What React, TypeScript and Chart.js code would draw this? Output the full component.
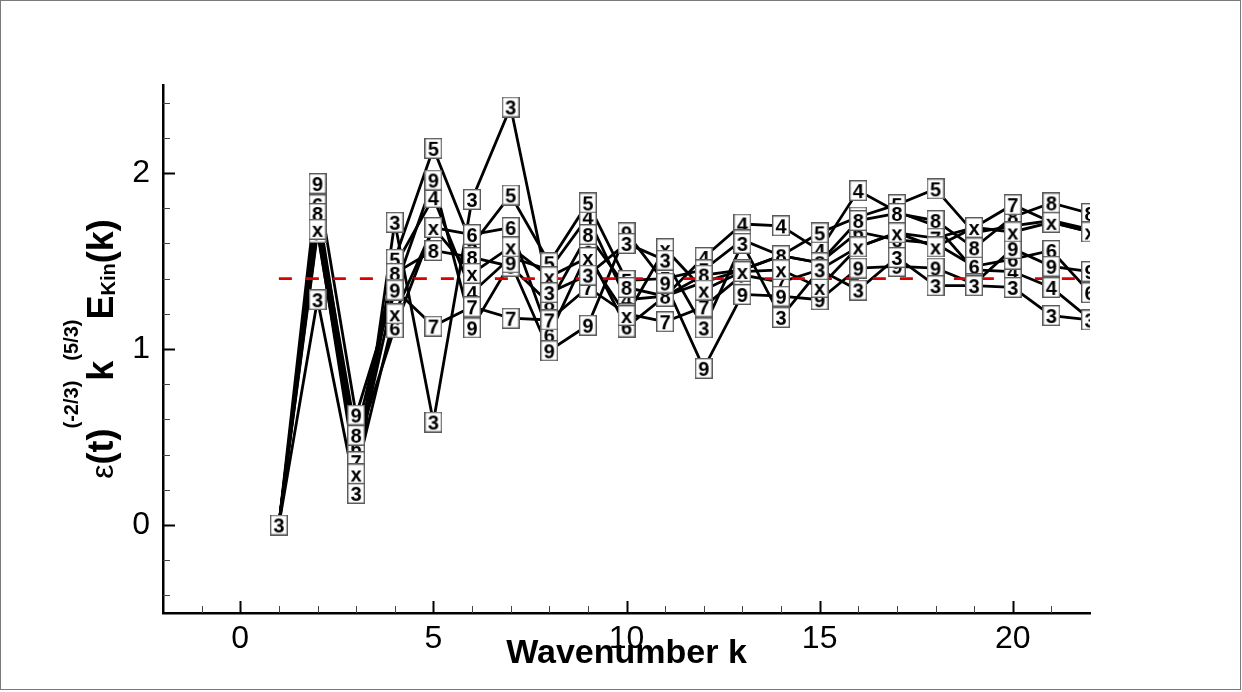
import React, { useEffect, useRef } from 'react';
import { Chart, registerables } from 'chart.js';

Chart.register(...registerables);

// ---- data ----
const wavenumbers = [1, 2, 3, 4, 5, 6, 7, 8, 9, 10, 11, 12, 13, 14, 15, 16, 17, 18, 19, 20, 21, 22];
const series3 = [0, 1.28, 0.18, 1.72, 0.585, 1.85, 2.375, 1.32, 1.42, 1.6, 1.505, 1.12, 1.6, 1.18, 1.45, 1.335, 1.52, 1.36, 1.36, 1.35, 1.19, 1.165];
const series4 = [0, 1.72, 0.33, 1.47, 1.86, 1.32, 1.52, 1.45, 1.75, 1.28, 1.3, 1.52, 1.71, 1.7, 1.56, 1.9, 1.78, 1.7, 1.45, 1.44, 1.35, 1.17];
const series5 = [0, 1.75, 0.39, 1.51, 2.14, 1.59, 1.875, 1.49, 1.83, 1.39, 1.4, 1.45, 1.62, 1.53, 1.66, 1.75, 1.82, 1.91, 1.66, 1.7, 1.73, 1.68];
const series6 = [0, 1.82, 0.44, 1.12, 1.69, 1.65, 1.69, 1.08, 1.55, 1.125, 1.3, 1.38, 1.45, 1.53, 1.49, 1.665, 1.62, 1.6, 1.47, 1.51, 1.56, 1.32];
const series7 = [0, 1.66, 0.36, 1.34, 1.13, 1.24, 1.175, 1.165, 1.35, 1.2, 1.155, 1.24, 1.42, 1.38, 1.45, 1.58, 1.66, 1.63, 1.69, 1.82, 1.72, 1.665];
const series8 = [0, 1.77, 0.51, 1.43, 1.56, 1.52, 1.47, 1.26, 1.65, 1.35, 1.3, 1.42, 1.45, 1.53, 1.49, 1.73, 1.77, 1.73, 1.575, 1.75, 1.83, 1.77];
const series9 = [0, 1.94, 0.625, 1.335, 1.96, 1.12, 1.49, 0.99, 1.135, 1.66, 1.375, 0.89, 1.31, 1.3, 1.28, 1.46, 1.47, 1.46, 1.37, 1.57, 1.47, 1.44];
const seriesX = [0, 1.68, 0.29, 1.2, 1.69, 1.43, 1.58, 1.41, 1.52, 1.19, 1.57, 1.335, 1.44, 1.45, 1.35, 1.58, 1.66, 1.58, 1.69, 1.665, 1.72, 1.665];

// first entry is drawn on top
const seriesLabels = ['3', 'x', '9', '7', '8', '6', '5', '4'];
const seriesValues = [series3, seriesX, series9, series7, series8, series6, series5, series4];

const refLevel = 1.4;
const refRange = [1, 22];
const xTickValues = [0, 5, 10, 15, 20];
const yTickValues = [0, 1, 2];

const FONT = '"Liberation Sans", Arial, Helvetica, sans-serif';

function makeMarker(label: string): HTMLCanvasElement {
  const c = document.createElement('canvas');
  c.width = 18;
  c.height = 21;
  const g = c.getContext('2d')!;
  g.fillStyle = '#ffffff';
  g.fillRect(0, 0, 18, 21);
  g.strokeStyle = '#5a5a5a';
  g.lineWidth = 1.4;
  g.strokeRect(0.7, 0.7, 16.6, 19.6);
  g.fillStyle = '#000000';
  g.font = 'bold 20px ' + FONT;
  g.textAlign = 'center';
  g.textBaseline = 'alphabetic';
  g.fillText(label, 9, 17.5);
  return c;
}

const axisDecor = {
  id: 'axisDecor',
  afterDraw(chart: any) {
    const { ctx, chartArea, scales } = chart;
    const xs = scales.x;
    const ys = scales.y;
    ctx.save();
    // x ticks (inward)
    for (let v = -1; v <= 21; v++) {
      const px = Math.round(xs.getPixelForValue(v)) + 0.5;
      const major = v % 5 === 0;
      ctx.beginPath();
      ctx.strokeStyle = major ? '#000' : '#444';
      ctx.lineWidth = major ? 2 : 1;
      ctx.moveTo(px, chartArea.bottom);
      ctx.lineTo(px, chartArea.bottom - (major ? 12 : 7));
      ctx.stroke();
    }
    // y ticks (inward)
    for (let i = -2; i <= 12; i++) {
      const v = i * 0.2;
      const py = Math.round(ys.getPixelForValue(v)) + 0.5;
      const major = i % 5 === 0;
      ctx.beginPath();
      ctx.strokeStyle = major ? '#000' : '#444';
      ctx.lineWidth = major ? 2 : 1;
      ctx.moveTo(chartArea.left, py);
      ctx.lineTo(chartArea.left + (major ? 12 : 7), py);
      ctx.stroke();
    }

    // y-axis title with super/subscripts
    const mainF = 'bold 36px ' + FONT;
    const epsF = '32px ' + FONT;
    const scriptF = 'bold 20px ' + FONT;
    const parts = [
      { t: '\u03B5', f: epsF, dy: 0 },
      { t: '(t)', f: mainF, dy: 0 },
      { t: '(-2/3)', f: scriptF, dy: -35 },
      { t: 'k', f: mainF, dy: 0 },
      { t: '(5/3)', f: scriptF, dy: -35 },
      { t: 'E', f: mainF, dy: 0 },
      { t: 'Kin', f: scriptF, dy: 2 },
      { t: '(k)', f: mainF, dy: 0 },
    ];
    let total = 0;
    const widths: number[] = [];
    for (const p of parts) {
      ctx.font = p.f;
      const w = ctx.measureText(p.t).width;
      widths.push(w);
      total += w;
    }
    const cx = 113;
    const cy = (chartArea.top + chartArea.bottom) / 2;
    ctx.translate(cx, cy);
    ctx.rotate(-Math.PI / 2);
    ctx.fillStyle = '#000';
    ctx.textAlign = 'left';
    ctx.textBaseline = 'alphabetic';
    let u = -total / 2;
    parts.forEach((p, i) => {
      ctx.font = p.f;
      ctx.fillText(p.t, u, p.dy);
      u += widths[i];
    });
    ctx.restore();
  },
};

export default function App() {
  const canvasRef = useRef<HTMLCanvasElement | null>(null);

  useEffect(() => {
    document.body.style.margin = '0';
    const canvas = canvasRef.current;
    if (!canvas) return;

    const markerDatasets = seriesLabels.map((lab, si) => ({
      label: 'Marker ' + lab,
      data: wavenumbers.map((k, i) => ({ x: k, y: seriesValues[si][i] })),
      showLine: false,
      pointStyle: makeMarker(lab),
      pointRadius: 10,
      pointHoverRadius: 10,
    }));
    const refDataset = {
      label: 'Reference',
      data: refRange.map((k) => ({ x: k, y: refLevel })),
      showLine: true,
      borderColor: '#dd0000',
      borderWidth: 2.6,
      borderDash: [13, 14],
      pointRadius: 0,
    };
    const lineDatasets = seriesLabels.map((lab, si) => ({
      label: 'Line ' + lab,
      data: wavenumbers.map((k, i) => ({ x: k, y: seriesValues[si][i] })),
      showLine: true,
      borderColor: '#000000',
      borderWidth: 2.8,
      pointRadius: 0,
      tension: 0,
    }));

    const chart = new Chart(canvas, {
      type: 'scatter',
      data: { datasets: [...markerDatasets, refDataset, ...lineDatasets] as any },
      options: {
        animation: false,
        responsive: false,
        devicePixelRatio: 1,
        layout: { padding: { left: 0, top: 85, right: 152, bottom: 0 } },
        plugins: { legend: { display: false }, tooltip: { enabled: false } },
        scales: {
          x: {
            type: 'linear',
            min: -2,
            max: 22,
            afterFit: (s: any) => { s.height = 79; },
            afterBuildTicks: (s: any) => { s.ticks = xTickValues.map((v) => ({ value: v })); },
            grid: { display: true, drawOnChartArea: false, drawTicks: false },
            border: { display: true, color: '#000', width: 2.5 },
            ticks: {
              color: '#000',
              padding: 7,
              font: { family: FONT, size: 32 },
              maxRotation: 0,
            },
            title: {
              display: true,
              text: 'Wavenumber k',
              color: '#000',
              font: { family: FONT, size: 34, weight: 'bold' },
              padding: { top: 0, bottom: 18 },
            },
          },
          y: {
            type: 'linear',
            min: -0.5,
            max: 2.5,
            afterFit: (s: any) => { s.width = 163; },
            afterBuildTicks: (s: any) => { s.ticks = yTickValues.map((v) => ({ value: v })); },
            grid: { display: true, drawOnChartArea: false, drawTicks: false },
            border: { display: true, color: '#000', width: 2.5 },
            ticks: {
              color: '#000',
              padding: 13,
              font: { family: FONT, size: 32 },
            },
          },
        },
      } as any,
      plugins: [axisDecor],
    });
    return () => chart.destroy();
  }, []);

  return (
    <div style={{ position: 'relative', width: 1242, height: 692, background: '#fff' }}>
      <canvas ref={canvasRef} width={1242} height={692} style={{ display: 'block' }} />
      <div
        style={{
          position: 'absolute',
          left: 0,
          top: 0,
          width: 1241,
          height: 690,
          border: '1px solid #7a7a7a',
          boxSizing: 'border-box',
          pointerEvents: 'none',
        }}
      />
    </div>
  );
}
